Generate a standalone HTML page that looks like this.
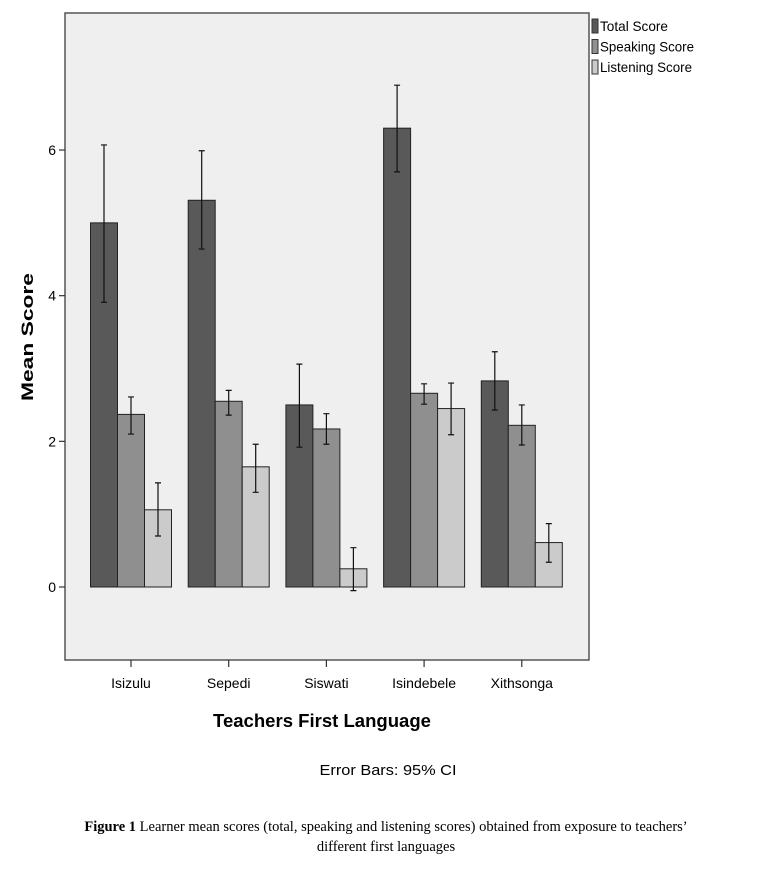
<!DOCTYPE html>
<html><head><meta charset="utf-8"><style>
body{margin:0;background:#fff;width:773px;height:869px;overflow:hidden}
svg{display:block}
</style></head><body>
<svg id="chart" width="773" height="869" xmlns="http://www.w3.org/2000/svg" font-family="Liberation Sans, sans-serif">
<rect x="65" y="13" width="524" height="647" fill="#efefef" stroke="#555" stroke-width="1.5"/>
<g id="bars"></g>
<g id="axes"></g>
<text transform="translate(33,337) rotate(-90)" text-anchor="middle" font-size="17" font-weight="bold" textLength="128" lengthAdjust="spacingAndGlyphs">Mean Score</text>
<text x="322" y="727" text-anchor="middle" font-size="18" font-weight="bold" textLength="218" lengthAdjust="spacingAndGlyphs">Teachers First Language</text>
<text x="388" y="775" text-anchor="middle" font-size="15" textLength="137" lengthAdjust="spacingAndGlyphs">Error Bars: 95% CI</text>
<text x="386" y="831" text-anchor="middle" font-family="Liberation Serif, serif" font-size="14.5"><tspan font-weight="bold">Figure 1</tspan> Learner mean scores (total, speaking and listening scores) obtained from exposure to teachers’</text>
<text x="386" y="851" text-anchor="middle" font-family="Liberation Serif, serif" font-size="14.5">different first languages</text>
<g id="legend"></g>
</svg>
<script>
const categories=["Isizulu","Sepedi","Siswati","Isindebele","Xithsonga"];
const seriesNames=["Total Score","Speaking Score","Listening Score"];
const totalMeans=[5.0,5.31,2.5,6.3,2.83];
const speakingMeans=[2.37,2.55,2.17,2.66,2.22];
const listeningMeans=[1.06,1.65,0.25,2.45,0.61];
const totalLo=[3.91,4.64,1.92,5.70,2.43];
const totalHi=[6.07,5.99,3.06,6.89,3.23];
const speakingLo=[2.10,2.36,1.96,2.51,1.95];
const speakingHi=[2.61,2.70,2.38,2.79,2.50];
const listeningLo=[0.70,1.30,-0.05,2.09,0.34];
const listeningHi=[1.43,1.96,0.54,2.80,0.87];
const yTicks=[0,2,4,6];

const NS="http://www.w3.org/2000/svg";
const colors=["#595959","#8f8f8f","#cbcbcb"];
const y=v=>587-v*72.83;
const xc=i=>131+i*97.7;
const bw=27;
function mk(t,a,p){const e=document.createElementNS(NS,t);for(const k in a)e.setAttribute(k,a[k]);p.appendChild(e);return e;}
const bars=document.getElementById('bars'),axes=document.getElementById('axes'),leg=document.getElementById('legend');
const means=[totalMeans,speakingMeans,listeningMeans],los=[totalLo,speakingLo,listeningLo],his=[totalHi,speakingHi,listeningHi];
categories.forEach((c,i)=>{
  for(let s=0;s<3;s++){
    const x0=xc(i)-1.5*bw+s*bw,v=means[s][i];
    const r=mk('rect',{x:x0,y:Math.min(y(v),y(0)),width:bw,height:Math.abs(y(0)-y(v)),fill:colors[s],stroke:'#222','stroke-width':1},bars);
    
    
    const cx=x0+bw/2;
    const e=mk('path',{d:`M${cx},${y(his[s][i])}V${y(los[s][i])}M${cx-3},${y(his[s][i])}h6M${cx-3},${y(los[s][i])}h6`,stroke:'#111','stroke-width':1.2,fill:'none'},bars);
    
    
  }
  mk('line',{x1:xc(i),x2:xc(i),y1:660,y2:667,stroke:'#333','stroke-width':1.2},axes);
  const t=mk('text',{x:xc(i),y:688,'text-anchor':'middle','font-size':14},axes);
  
  
  t.textContent=c;
});
yTicks.forEach(v=>{
  mk('line',{x1:59,x2:65,y1:y(v),y2:y(v),stroke:'#333','stroke-width':1.2},axes);
  const t=mk('text',{x:56,y:y(v)+5,'text-anchor':'end','font-size':14},axes);
  
  
  t.textContent=v;
});
seriesNames.forEach((n,s)=>{
  const yy=19+s*20.5;
  const r=mk('rect',{x:592,y:yy,width:6,height:14,fill:colors[s],stroke:'#333','stroke-width':1},leg);
  
  
  const t=mk('text',{x:600,y:yy+12,'font-size':14},leg);
  
  
  t.setAttribute('textLength',[68,94,92][s]);
  t.setAttribute('lengthAdjust','spacingAndGlyphs');
  t.textContent=n;
});
</script>
</body></html>
